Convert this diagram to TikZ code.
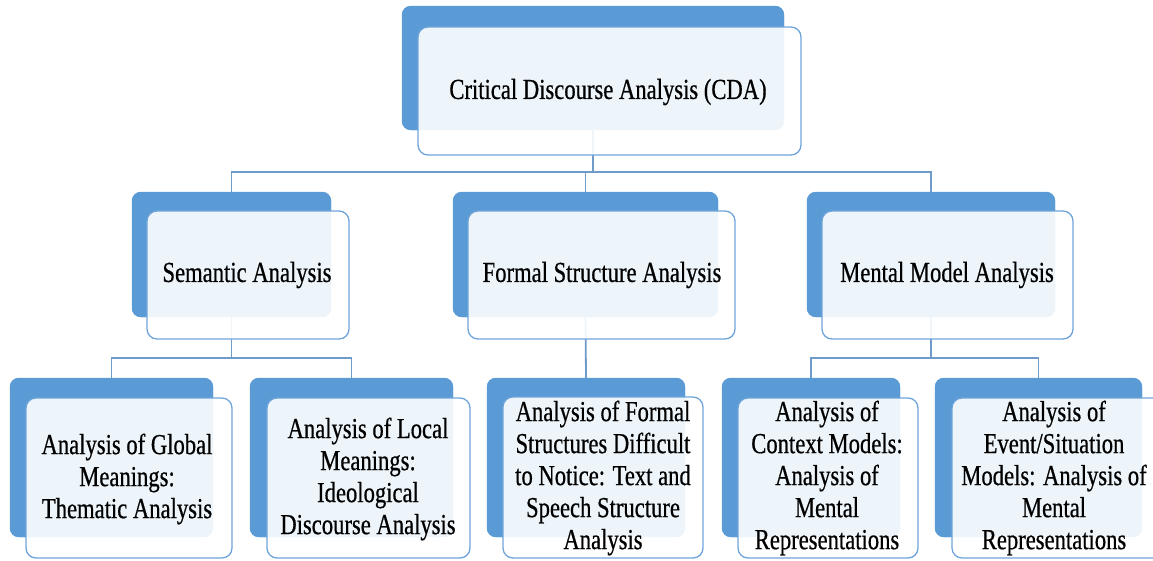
\documentclass[tikz,border=0pt]{standalone}
\usepackage{fontspec}
\setmainfont{Liberation Serif}[FakeStretch=0.78,FakeBold=0.6]
\definecolor{bblue}{HTML}{5B9BD5}
\definecolor{fblue}{HTML}{6FA4DA}
\definecolor{cblue}{HTML}{6F9BCB}
\begin{document}
\begin{tikzpicture}[x=1pt,y=-1pt,
  backbox/.style={fill=bblue, rounded corners=9pt, inner sep=0pt, draw=none},
  frontbox/.style={fill=white, fill opacity=0.9, draw=fblue, line width=1.3pt, rounded corners=10pt, inner sep=0pt},
  conn/.style={draw=cblue, line width=1.8pt},
  lbl/.style={align=center, inner sep=0pt, font=\fontsize{29}{32}\selectfont, text=black}]
\clip (0,0) rectangle (1153,560);
% back boxes
\node[backbox, minimum width=382pt, minimum height=124pt] (topB) at (593,68) {};
\node[backbox, minimum width=199pt, minimum height=125pt] (semB) at (231.5,254.5) {};
\node[backbox, minimum width=265pt, minimum height=125pt] (forB) at (585.5,254.5) {};
\node[backbox, minimum width=248pt, minimum height=125pt] (menB) at (931,254.5) {};
\node[backbox, minimum width=203pt, minimum height=159pt] (gloB) at (111.5,457.5) {};
\node[backbox, minimum width=203pt, minimum height=159pt] (locB) at (351.5,457.5) {};
\node[backbox, minimum width=198pt, minimum height=159pt] (fstB) at (586,457.5) {};
\node[backbox, minimum width=178pt, minimum height=159pt] (conB) at (811,457.5) {};
\node[backbox, minimum width=207pt, minimum height=159pt] (evtB) at (1038.5,457.5) {};
% connectors
\coordinate (bus1) at (593,172);
\coordinate (bus2) at (231.5,358);
\coordinate (bus3) at (931,358);
\draw[conn] (topB.south) -- (bus1);
\draw[conn] (bus1) -| (semB.north);
\draw[conn] (bus1) -| (menB.north);
\draw[conn] (bus1) -| (forB.north);
\draw[conn] (semB.south) -- (bus2);
\draw[conn] (bus2) -| (gloB.north);
\draw[conn] (bus2) -| (locB.north);
\draw[conn] (forB.south) -- (fstB.north);
\draw[conn] (menB.south) -- (bus3);
\draw[conn] (bus3) -| (conB.north);
\draw[conn] (bus3) -| (evtB.north);
% redraw back boxes over connectors
\foreach \n in {topB,semB,forB,menB,gloB,locB,fstB,conB,evtB}{
  \fill[bblue, rounded corners=9pt] (\n.north west) rectangle (\n.south east);
}
% front boxes
\node[frontbox, minimum width=383pt, minimum height=128pt] (topF) at (609.5,91) {};
\node[frontbox, minimum width=202pt, minimum height=128pt] (semF) at (248,275) {};
\node[frontbox, minimum width=267pt, minimum height=128pt] (forF) at (601.5,275) {};
\node[frontbox, minimum width=251pt, minimum height=128pt] (menF) at (947.5,275) {};
\node[frontbox, minimum width=206pt, minimum height=160pt] (gloF) at (129,478) {};
\node[frontbox, minimum width=203pt, minimum height=160pt] (locF) at (368.5,478) {};
\node[frontbox, minimum width=200pt, minimum height=161pt] (fstF) at (603,477.5) {};
\node[frontbox, minimum width=180pt, minimum height=160pt] (conF) at (828,478) {};
\node[frontbox, minimum width=213pt, minimum height=160pt] (evtF) at (1058.5,478) {};
% labels
\node[lbl] (topT) at (608,92) {Critical Discourse Analysis (CDA)};
\node[lbl] (semT) at (247,275) {Semantic Analysis};
\node[lbl] (forT) at (602,275) {Formal Structure Analysis};
\node[lbl] (menT) at (947,275) {Mental Model Analysis};
\node[lbl] (gloT) at (127,479) {Analysis of Global\\Meanings:\\Thematic Analysis};
\node[lbl] (locT) at (368,479) {Analysis of Local\\Meanings:\\Ideological\\Discourse Analysis};
\node[lbl] (fstT) at (603,478) {Analysis of Formal\\Structures Difficult\\to Notice: Text and\\Speech Structure\\Analysis};
\node[lbl] (conT) at (827,478) {Analysis of\\Context Models:\\Analysis of\\Mental\\Representations};
\node[lbl] (evtT) at (1054,478) {Analysis of\\Event/Situation\\Models: Analysis of\\Mental\\Representations};
\end{tikzpicture}
\end{document}
